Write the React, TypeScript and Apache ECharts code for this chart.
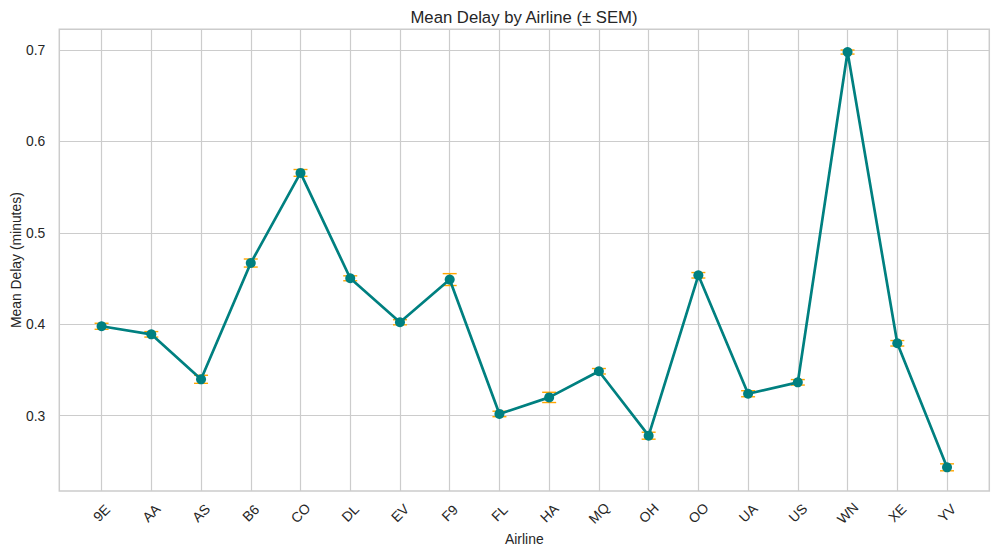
import React, { useEffect, useRef } from "react";
import * as echarts from "echarts";

const airlines = ["9E", "AA", "AS", "B6", "CO", "DL", "EV", "F9", "FL", "HA", "MQ", "OH", "OO", "UA", "US", "WN", "XE", "YV"];
const meanDelay = [0.3978, 0.389, 0.3398, 0.467, 0.5656, 0.4503, 0.4022, 0.4489, 0.3019, 0.320, 0.3486, 0.2781, 0.4536, 0.324, 0.3365, 0.6978, 0.3792, 0.2435];
const semDelay = [0.0033, 0.003, 0.0044, 0.0044, 0.0037, 0.0027, 0.0028, 0.0065, 0.003, 0.0056, 0.003, 0.0038, 0.003, 0.0033, 0.003, 0.0022, 0.003, 0.0038];
const yTicks = [0.3, 0.4, 0.5, 0.6, 0.7];

const FONT = "'Liberation Sans', Arial, sans-serif";
const TEXT = "#262626";
const GRID = "#cccccc";

export default function App() {
  const ref = useRef<HTMLDivElement>(null);
  useEffect(() => {
    if (!ref.current) return;
    const chart = echarts.init(ref.current, undefined, { renderer: "svg" });
    const idx = airlines.map((_, i) => i);
    const lineData = meanDelay.map((m, i) => [i, m]);
    const errData = meanDelay.map((m, i) => [i, m, semDelay[i]]);
    chart.setOption({
      animation: false,
      backgroundColor: "#ffffff",
      textStyle: { fontFamily: FONT },
      graphic: [
        {
          type: "text",
          x: 524,
          y: 17,
          style: {
            text: "Mean Delay by Airline (± SEM)",
            fontSize: 16.7,
            fontFamily: FONT,
            fill: TEXT,
            textAlign: "center",
            textVerticalAlign: "middle",
          },
        },
      ],
      grid: {
        left: 59.3,
        right: 8.7,
        top: 29.3,
        bottom: 66,
        outerBoundsMode: "none",
        containLabel: false,
        show: true,
        borderColor: GRID,
        borderWidth: 1.5,
        backgroundColor: "transparent",
      },
      xAxis: {
        type: "value",
        min: -0.85,
        max: 17.85,
        name: "Airline",
        nameLocation: "middle",
        nameGap: 41,
        nameMoveOverlap: false,
        nameTextStyle: { fontSize: 13.9, color: TEXT, fontFamily: FONT },
        axisLine: { show: false },
        axisTick: { show: false, customValues: idx },
        axisLabel: {
          customValues: idx,
          formatter: (v: number) => airlines[Math.round(v)] ?? "",
          rotate: 45,
          align: "center",
          verticalAlign: "middle",
          margin: 22,
          fontSize: 13.9,
          color: TEXT,
          fontFamily: FONT,
        },
        splitLine: { show: true, lineStyle: { color: GRID, width: 1.2 } },
      },
      yAxis: {
        type: "value",
        min: 0.2176,
        max: 0.7227,
        name: "Mean Delay (minutes)",
        nameLocation: "middle",
        nameGap: 36,
        nameMoveOverlap: false,
        nameTextStyle: { fontSize: 13.9, color: TEXT, fontFamily: FONT },
        axisLine: { show: false },
        axisTick: { show: false, customValues: yTicks },
        axisLabel: {
          customValues: yTicks,
          formatter: (v: number) => v.toFixed(1),
          margin: 14,
          fontSize: 13.9,
          color: TEXT,
          fontFamily: FONT,
        },
        splitLine: { show: true, lineStyle: { color: GRID, width: 1.2 } },
      },
      series: [
        {
          type: "custom",
          data: errData,
          encode: { x: 0, y: 1 },
          z: 1,
          renderItem: (params: any, api: any) => {
            const x = api.value(0);
            const m = api.value(1);
            const s = api.value(2);
            const top = api.coord([x, m + s]);
            const bot = api.coord([x, m - s]);
            const hw = 7;
            const st = { stroke: "#FFA500", lineWidth: 1.4 };
            return {
              type: "group",
              children: [
                { type: "line", shape: { x1: top[0], y1: top[1], x2: bot[0], y2: bot[1] }, style: st },
                { type: "line", shape: { x1: top[0] - hw, y1: top[1], x2: top[0] + hw, y2: top[1] }, style: st },
                { type: "line", shape: { x1: bot[0] - hw, y1: bot[1], x2: bot[0] + hw, y2: bot[1] }, style: st },
              ],
            };
          },
        },
        {
          type: "line",
          data: lineData,
          z: 2,
          symbol: "circle",
          symbolSize: 10,
          itemStyle: { color: "#008080" },
          lineStyle: { color: "#008080", width: 2.7 },
        },
      ],
    });
    return () => chart.dispose();
  }, []);
  return (
    <div
      ref={ref}
      style={{ position: "absolute", left: 0, top: 0, width: 998, height: 557 }}
    />
  );
}
